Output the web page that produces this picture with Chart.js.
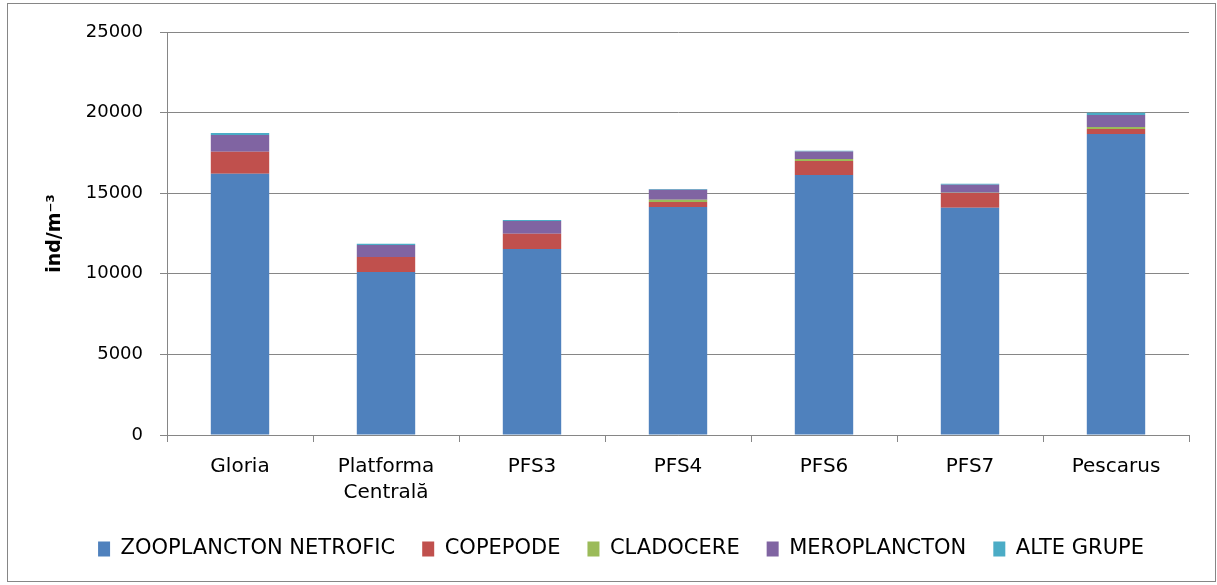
<!DOCTYPE html>
<html>
<head>
<meta charset="utf-8">
<script src="https://cdn.jsdelivr.net/npm/chart.js@4.4.1/dist/chart.umd.min.js"></script>
<style>
  html, body { margin: 0; padding: 0; background: #ffffff; }
  canvas { display: block; }
</style>
</head>
<body>
<canvas id="c" width="1217" height="585"></canvas>
<script>
// ---- data ----
const categories = ['Gloria', ['Platforma', 'Centrală'], 'PFS3', 'PFS4', 'PFS6', 'PFS7', 'Pescarus'];
const seriesNames = ['ZOOPLANCTON NETROFIC', 'COPEPODE', 'CLADOCERE', 'MEROPLANCTON', 'ALTE GRUPE'];
const zooplanctonNetrofic = [16210, 10110, 11540, 14140, 16130, 14100, 18670];
const copepode            = [1365, 930, 950, 310, 870, 910, 310];
const cladocere           = [0, 0, 0, 145, 125, 15, 125];
const meroplancton        = [1035, 745, 790, 620, 455, 500, 745];
const alteGrupe           = [125, 80, 60, 45, 60, 60, 140];
const yTicks = [0, 5000, 10000, 15000, 20000, 25000];

const colors = ['#4F81BD', '#C0504D', '#9BBB59', '#8064A2', '#4BACC6'];
const seriesValues = [zooplanctonNetrofic, copepode, cladocere, meroplancton, alteGrupe];
const GRID = '#868686';

const framePlugin = {
  id: 'frame',
  afterDraw(chart) {
    const ctx = chart.ctx;
    ctx.save();
    ctx.strokeStyle = GRID;
    ctx.lineWidth = 1;
    ctx.strokeRect(7.5, 3.5, 1208, 578);
    ctx.restore();
  }
};

new Chart(document.getElementById('c'), {
  type: 'bar',
  data: {
    labels: categories,
    datasets: seriesNames.map((n, i) => ({
      label: n,
      data: seriesValues[i],
      backgroundColor: colors[i],
      borderWidth: 0,
      inflateAmount: 0,
      barPercentage: 0.4,
      categoryPercentage: 1.0
    }))
  },
  options: {
    responsive: false,
    animation: false,
    devicePixelRatio: 1,
    layout: { padding: { top: 32, left: 26, right: 1, bottom: 15.5 } },
    plugins: {
      tooltip: { enabled: false },
      legend: {
        position: 'bottom',
        labels: {
          font: { family: 'DejaVu Sans', size: 21 },
          color: '#000000',
          boxWidth: 12,
          boxHeight: 15,
          padding: 27
        }
      }
    },
    scales: {
      x: {
        stacked: true,
        grid: { offset: true, drawOnChartArea: false, drawTicks: true, tickLength: 7, color: GRID },
        border: { display: true, color: GRID, width: 1 },
        ticks: {
          font: { family: 'DejaVu Sans', size: 20, lineHeight: 1.3 },
          color: '#000000',
          padding: 12,
          maxRotation: 0,
          autoSkip: false
        },
        afterFit: s => { s.height = 76.5; }
      },
      y: {
        stacked: true,
        min: 0,
        max: 25000,
        afterBuildTicks: s => { s.ticks = yTicks.map(v => ({ value: v })); },
        grid: { color: GRID, tickLength: 7, lineWidth: 1 },
        border: { display: true, color: GRID, width: 1 },
        ticks: {
          font: { family: 'DejaVu Sans', size: 18 },
          color: '#000000',
          padding: 17,
          callback: v => String(v)
        },
        title: {
          display: true,
          text: 'ind/m⁻³',
          font: { family: 'DejaVu Sans', size: 19, weight: 'bold' },
          color: '#000000',
          padding: { top: 18, bottom: 0 }
        },
        afterFit: s => { s.width = 141; }
      },
      yR: {
        position: 'right',
        display: true,
        grid: { display: false },
        border: { display: false },
        ticks: { display: false },
        afterFit: s => { s.width = 27; }
      }
    }
  },
  plugins: [framePlugin]
});
</script>
</body>
</html>
